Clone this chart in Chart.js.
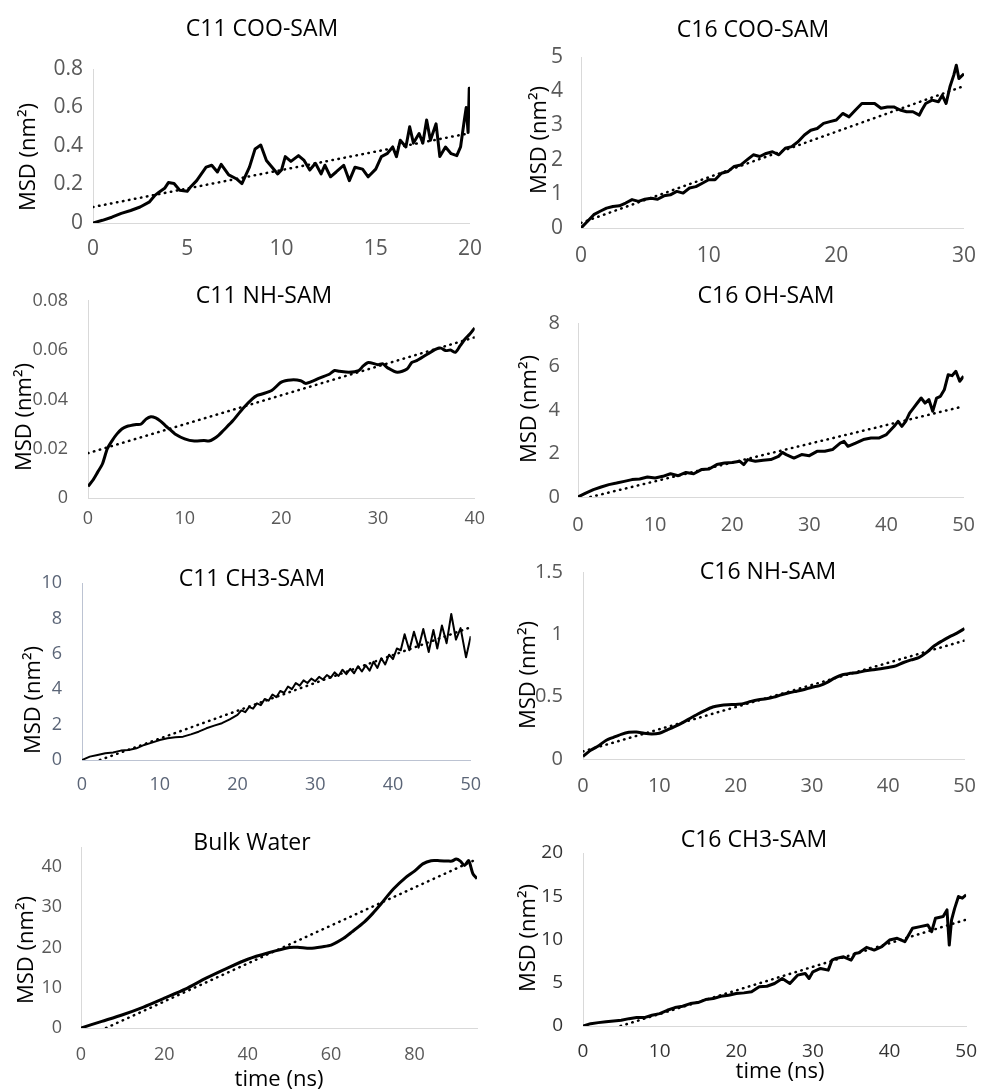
<!DOCTYPE html>
<html>
<head>
<meta charset="utf-8">
<script src="https://cdn.jsdelivr.net/npm/chart.js@4.4.0/dist/chart.umd.min.js"></script>
<style>
  body { margin: 0; background: #fff; width: 991px; height: 1089px; position: relative; overflow: hidden; font-family: "Open Sans", sans-serif; }
  canvas { position: absolute; }
  .txt { position: absolute; transform: translate(-50%, -50%); white-space: nowrap; line-height: 1; color: #000; }
  .ylab { transform: translate(-50%, -50%) rotate(-90deg); }
</style>
</head>
<body>
<script>
// C11 COO-SAM
const c11CooTime = [0,0.5,1,1.5,2,2.5,3,3.3,3.5,3.8,4,4.3,4.6,5,5.2,5.5,6,6.3,6.6,6.8,7.2,7.6,7.9,8.3,8.6,8.9,9.2,9.5,9.8,10,10.2,10.5,10.9,11.2,11.5,11.8,12.1,12.3,12.6,12.9,13.3,13.6,13.9,14.3,14.6,15,15.3,15.6,15.9,16.1,16.3,16.6,16.8,17,17.3,17.5,17.7,17.9,18.2,18.4,18.7,19,19.3,19.5,19.7,19.8,19.9,19.96,20];
const c11CooMsd = [0,0.014,0.03,0.05,0.065,0.083,0.11,0.145,0.16,0.18,0.21,0.205,0.17,0.165,0.19,0.22,0.29,0.3,0.265,0.305,0.25,0.23,0.205,0.29,0.385,0.405,0.325,0.29,0.255,0.275,0.345,0.32,0.35,0.325,0.275,0.31,0.255,0.3,0.24,0.265,0.3,0.22,0.29,0.28,0.24,0.28,0.345,0.36,0.395,0.345,0.43,0.395,0.5,0.415,0.465,0.415,0.535,0.43,0.515,0.345,0.395,0.36,0.35,0.395,0.535,0.6,0.47,0.7,0.65];
const c11CooFitTime = [0, 20];
const c11CooFitMsd = [0.083, 0.467];

// C16 COO-SAM
const c16CooTime = [0,0.5,1,1.5,2,2.5,3,3.5,4,4.5,5,5.5,6,6.5,7,7.5,8,8.5,9,9.5,10,10.5,11,11.5,12,12.5,13,13.5,14,14.5,15,15.5,16,16.5,17,17.5,18,18.5,19,19.5,20,20.5,21,21.5,22,22.5,23,23.5,24,24.5,25,25.5,26,26.5,26.7,27,27.5,28,28.3,28.6,28.9,29.2,29.4,29.6,30];
const c16CooMsd = [0,0.19,0.39,0.49,0.58,0.63,0.65,0.73,0.83,0.78,0.84,0.87,0.84,0.94,0.97,1.07,1.02,1.17,1.21,1.31,1.41,1.41,1.6,1.65,1.8,1.84,1.99,2.14,2.09,2.18,2.23,2.14,2.33,2.38,2.52,2.72,2.86,2.91,3.06,3.11,3.16,3.35,3.25,3.45,3.64,3.64,3.64,3.5,3.54,3.54,3.45,3.4,3.4,3.3,3.45,3.64,3.74,3.69,3.88,3.64,4.13,4.47,4.76,4.37,4.51];
const c16CooFitTime = [0, 30];
const c16CooFitMsd = [0.15, 4.15];

// C11 NH-SAM
const c11NhTime = [0,0.5,1,1.5,2,2.5,3,3.5,4,5,5.5,6,6.5,7,7.5,8,8.5,9,10,11,12,12.5,13,13.5,14,15,16,17,17.5,18,19,20,21,22,22.5,23,24,25,25.5,26,27,28,28.5,29,30,30.5,31,32,33,33.5,34,35,36,36.5,37,37.5,38,38.5,39,39.5,40];
const c11NhMsd = [0.0047,0.0072,0.0105,0.0139,0.02,0.0233,0.026,0.028,0.029,0.0298,0.03,0.032,0.033,0.0325,0.0312,0.0294,0.0277,0.026,0.024,0.0231,0.0233,0.0231,0.024,0.0254,0.0274,0.0314,0.0362,0.0402,0.0416,0.0422,0.0436,0.047,0.0479,0.0476,0.0465,0.047,0.0487,0.0503,0.0517,0.0514,0.051,0.0517,0.0537,0.055,0.0541,0.0544,0.0528,0.051,0.0523,0.055,0.0557,0.0581,0.0604,0.0608,0.0598,0.06,0.0591,0.0618,0.0645,0.0665,0.069];
const c11NhFitTime = [0, 40];
const c11NhFitMsd = [0.0182, 0.0652];

// C16 OH-SAM
const c16OhTime = [0,1,2,3,4,5,6,7,8,9,10,11,12,13,14,15,16,17,18,19,20,21,21.5,22,23,24,25,26,26.5,27,28,29,30,31,32,33,34,34.5,35,36,37,38,39,40,41,41.5,42,42.5,43,43.5,44,44.5,45,45.5,46,46.5,47,47.5,48,48.5,49,49.5,50];
const c16OhMsd = [0,0.18,0.34,0.46,0.57,0.64,0.72,0.8,0.83,0.92,0.87,0.95,1.07,0.98,1.13,1.07,1.26,1.29,1.49,1.56,1.59,1.64,1.49,1.72,1.64,1.69,1.72,1.87,2.05,1.95,1.79,1.95,1.9,2.1,2.1,2.18,2.48,2.56,2.33,2.48,2.64,2.71,2.71,2.87,3.25,3.48,3.25,3.48,3.86,4.09,4.32,4.55,4.32,4.48,3.94,4.55,4.63,4.93,5.62,5.58,5.78,5.32,5.55];
const c16OhFitTime = [1.6, 50];
const c16OhFitMsd = [0, 4.17];

// C11 CH3-SAM
const c11Ch3Time = [0,1,2,3,4,5,6,7,8,9,10,11,12,13,14,15,16,17,18,19,20,20.5,21,21.5,22,22.5,23,23.5,24,24.5,25,25.5,26,26.5,27,27.5,28,28.5,29,29.5,30,30.5,31,31.5,32,32.5,33,33.5,34,34.5,35,35.5,36,36.5,37,37.5,38,38.5,39,39.5,40,40.5,41,41.5,42.1,42.7,43.3,43.9,44.6,45.2,45.7,46.3,46.9,47.5,48.1,48.7,49.4,50];
const c11Ch3Msd = [0,0.19,0.28,0.38,0.42,0.53,0.57,0.66,0.85,0.98,1.13,1.23,1.28,1.32,1.45,1.6,1.79,1.94,2.08,2.3,2.55,2.8,2.7,3.0,2.9,3.2,3.1,3.45,3.35,3.7,3.55,3.9,3.8,4.15,4.0,4.35,4.2,4.5,4.35,4.6,4.45,4.7,4.55,4.8,4.65,4.95,4.75,5.1,4.85,5.15,4.9,5.3,5.0,5.35,5.05,5.55,5.2,5.75,5.4,5.95,5.7,6.3,6.2,7.1,6.2,7.25,6.35,7.4,6.1,7.35,6.3,7.6,6.6,8.25,6.8,7.45,5.8,7.0];
const c11Ch3FitTime = [2.3, 50];
const c11Ch3FitMsd = [0, 7.5];

// C16 NH-SAM
const c16NhTime = [0,1,2,3,4,5,6,7,8,9,10,11,12,13,14,15,16,17,18,19,20,21,22,23,24,25,26,27,28,29,30,31,32,33,34,35,36,37,38,39,40,41,42,43,44,45,46,47,48,49,50];
const c16NhMsd = [0.02,0.07,0.105,0.148,0.174,0.198,0.214,0.217,0.206,0.2,0.206,0.232,0.259,0.29,0.325,0.359,0.39,0.417,0.43,0.436,0.438,0.444,0.462,0.475,0.483,0.496,0.515,0.531,0.544,0.557,0.576,0.589,0.615,0.65,0.676,0.687,0.694,0.708,0.716,0.724,0.734,0.747,0.774,0.795,0.813,0.853,0.906,0.945,0.98,1.01,1.046];
const c16NhFitTime = [0, 50];
const c16NhFitMsd = [0.061, 0.95];

// Bulk Water
const waterTime = [0,5,10,15,20,25,30,35,40,45,50,52,55,58,60,63,65,68,70,72,75,78,80,82,84,86,88,89,90,91,92,93,94,95];
const waterMsd = [0,1.65,3.3,5.2,7.4,9.65,12.4,14.85,17.1,18.7,20.0,20.05,19.8,20.2,20.6,22.3,23.9,26.4,28.5,30.9,34.6,37.5,39.0,40.8,41.6,41.6,41.5,41.5,42.0,41.5,40.4,41.6,38.4,37.1];
const waterFitTime = [6, 95];
const waterFitMsd = [0, 42];

// C16 CH3-SAM
const c16Ch3Time = [0,1,2,3,4,5,6,7,8,9,10,11,12,13,14,15,16,17,18,19,20,21,22,23,24,25,26,27,28,29,29.5,30,31,32,32.5,33,34,35,35.5,36,37,38,39,40,41,42,43,44,45,45.5,46,47,47.5,47.8,48.1,48.5,49,49.5,50];
const c16Ch3Msd = [0,0.27,0.39,0.5,0.58,0.66,0.85,0.97,0.97,1.24,1.43,1.82,2.13,2.28,2.59,2.71,3.06,3.17,3.44,3.56,3.75,3.83,3.95,4.53,4.6,4.91,5.49,4.91,5.88,6.07,5.49,6.27,6.65,6.46,7.62,7.81,8.0,7.62,8.39,8.47,9.09,8.78,9.17,9.94,10.14,9.75,11.3,11.49,11.68,10.9,12.46,12.65,13.42,9.36,12.26,13.6,14.97,14.78,15.16];
const c16Ch3FitTime = [4.9, 50];
const c16Ch3FitMsd = [0, 12.3];

const msdLabel = 'MSD (nm\u00B2)';
const timeLabel = 'time (ns)';

// panel layout: cell = [x, y, w, h], plot = [left, top, right, bottom]
const panels = [
  { title: 'C11 COO-SAM', time: c11CooTime, msd: c11CooMsd, fitTime: c11CooFitTime, fitMsd: c11CooFitMsd,
    xMax: 20, xStep: 5, yMax: 0.8, yStep: 0.2, cell: [0, 0, 495, 270], plot: [93, 69, 475, 223],
    titleAt: [262, 27], ylabAt: [26, 157], tickSize: 21, yPad: 10, xPad: 13 },
  { title: 'C16 COO-SAM', time: c16CooTime, msd: c16CooMsd, fitTime: c16CooFitTime, fitMsd: c16CooFitMsd,
    xMax: 30, xStep: 10, yMax: 5, yStep: 1, cell: [495, 0, 496, 270], plot: [581, 57, 978, 228],
    titleAt: [753, 28], ylabAt: [537, 140], tickSize: 21, yPad: 18, xPad: 15 },
  { title: 'C11 NH-SAM', time: c11NhTime, msd: c11NhMsd, fitTime: c11NhFitTime, fitMsd: c11NhFitMsd,
    xMax: 40, xStep: 10, yMax: 0.08, yStep: 0.02, cell: [0, 270, 495, 270], plot: [88, 300, 478, 498],
    titleAt: [264, 294], ylabAt: [22, 417], tickSize: 18, yPad: 20, xPad: 10, tension: 0.25 },
  { title: 'C16 OH-SAM', time: c16OhTime, msd: c16OhMsd, fitTime: c16OhFitTime, fitMsd: c16OhFitMsd,
    xMax: 50, xStep: 10, yMax: 8, yStep: 2, cell: [495, 270, 496, 270], plot: [578, 323, 973, 497],
    titleAt: [766, 294], ylabAt: [527, 409], tickSize: 20, yPad: 18, xPad: 16 },
  { title: 'C11 CH3-SAM', time: c11Ch3Time, msd: c11Ch3Msd, fitTime: c11Ch3FitTime, fitMsd: c11Ch3FitMsd,
    xMax: 50, xStep: 10, yMax: 10, yStep: 2, cell: [0, 540, 495, 270], plot: [82, 583, 475, 760],
    titleAt: [252, 577], ylabAt: [31, 700], tickSize: 18, yPad: 20, xPad: 14,
    lineWidth: 2, tickColor: '#5b6577', axisColor: '#bcc3d2' },
  { title: 'C16 NH-SAM', time: c16NhTime, msd: c16NhMsd, fitTime: c16NhFitTime, fitMsd: c16NhFitMsd,
    xMax: 50, xStep: 10, yMax: 1.5, yStep: 0.5, cell: [495, 540, 496, 270], plot: [583, 570, 978, 759],
    titleAt: [768, 570], ylabAt: [526, 675], tickSize: 20, yPad: 20, xPad: 15, tension: 0.25 },
  { title: 'Bulk Water', time: waterTime, msd: waterMsd, fitTime: waterFitTime, fitMsd: waterFitMsd,
    xMax: 95, xStep: 20, yMax: 45, yStep: 10, cell: [0, 810, 495, 279], plot: [81, 847, 477, 1028],
    titleAt: [252, 841], ylabAt: [24, 950], xlabAt: [279, 1077], tickSize: 18, yPad: 19, xPad: 16, tension: 0.25 },
  { title: 'C16 CH3-SAM', time: c16Ch3Time, msd: c16Ch3Msd, fitTime: c16Ch3FitTime, fitMsd: c16Ch3FitMsd,
    xMax: 50, xStep: 10, yMax: 20, yStep: 5, cell: [495, 810, 496, 279], plot: [583, 853, 978, 1026],
    titleAt: [754, 838], ylabAt: [526, 938], xlabAt: [780, 1069], tickSize: 19, yPad: 20, xPad: 14, tickColor: '#333333' }
];

Chart.defaults.font.family = 'Open Sans';

// plain number labels, like "1" instead of "1.0"
const plainTick = v => String(Math.round(v * 1e6) / 1e6);

function addText(text, at, size, cls) {
  const d = document.createElement('div');
  d.className = 'txt' + (cls ? ' ' + cls : '');
  d.textContent = text;
  d.style.left = at[0] + 'px';
  d.style.top = at[1] + 'px';
  d.style.fontSize = size + 'px';
  document.body.appendChild(d);
}

panels.forEach(p => {
  const [cx, cy, cw, ch] = p.cell;
  const [pl, pt, pr, pb] = p.plot;
  const canvas = document.createElement('canvas');
  canvas.width = cw;
  canvas.height = ch;
  canvas.style.left = cx + 'px';
  canvas.style.top = cy + 'px';
  document.body.appendChild(canvas);

  const tickColor = p.tickColor || '#595959';
  const axisColor = p.axisColor || '#d9d9d9';
  const tickFont = { family: 'Open Sans', size: p.tickSize };

  new Chart(canvas, {
    type: 'line',
    data: {
      datasets: [
        {
          data: p.time.map((t, i) => ({ x: t, y: p.msd[i] })),
          borderColor: '#000',
          borderWidth: p.lineWidth || 3,
          borderJoinStyle: 'round',
          pointRadius: 0,
          tension: p.tension || 0
        },
        {
          data: p.fitTime.map((t, i) => ({ x: t, y: p.fitMsd[i] })),
          borderColor: '#000',
          borderWidth: 2.5,
          borderDash: [0.5, 5.6],
          borderCapStyle: 'round',
          pointRadius: 0
        }
      ]
    },
    options: {
      responsive: false,
      animation: false,
      devicePixelRatio: 1,
      layout: { padding: { left: 0, top: pt - cy, right: cx + cw - pr, bottom: 0 } },
      plugins: { legend: { display: false }, tooltip: { enabled: false } },
      scales: {
        x: {
          type: 'linear', min: 0, max: p.xMax,
          grid: { display: false, drawTicks: false },
          border: { display: true, color: axisColor, width: 1 },
          ticks: { stepSize: p.xStep, includeBounds: false, font: tickFont, color: tickColor,
                   padding: p.xPad, maxRotation: 0, autoSkip: false, callback: plainTick },
          afterFit: s => { s.height = cy + ch - pb; }
        },
        y: {
          type: 'linear', min: 0, max: p.yMax,
          grid: { display: false, drawTicks: false },
          border: { display: true, color: axisColor, width: 1 },
          ticks: { stepSize: p.yStep, includeBounds: false, font: tickFont, color: tickColor,
                   padding: p.yPad, autoSkip: false, callback: plainTick },
          afterFit: s => { s.width = pl - cx; }
        }
      }
    }
  });

  addText(p.title, p.titleAt, 23);
  addText(msdLabel, p.ylabAt, 22, 'ylab');
  if (p.xlabAt) addText(timeLabel, p.xlabAt, 22);
});
</script>
</body>
</html>
